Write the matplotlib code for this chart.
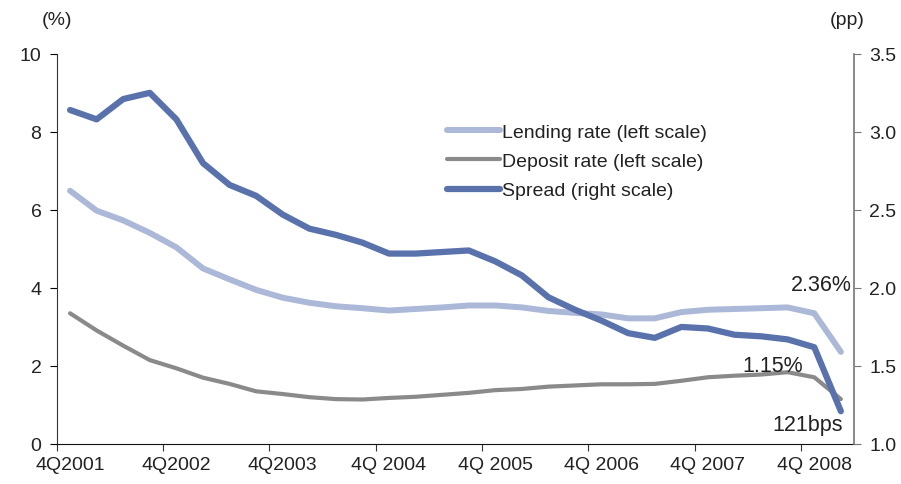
import matplotlib.pyplot as plt
import numpy as np

plt.rcParams['font.family'] = ['Liberation Sans', 'DejaVu Sans']

# Quarterly data, 4Q2001 .. 1Q2009
quarters = ['4Q2001', '4Q2002', '4Q2003', '4Q 2004', '4Q 2005', '4Q 2006', '4Q 2007', '4Q 2008']
lending = [6.49, 5.98, 5.73, 5.41, 5.04, 4.50, 4.22, 3.95, 3.75, 3.62,
           3.53, 3.48, 3.42, 3.46, 3.50, 3.55, 3.55, 3.50, 3.41, 3.36,
           3.32, 3.22, 3.22, 3.38, 3.44, 3.46, 3.48, 3.50, 3.35, 2.36]
deposit = [3.35, 2.91, 2.52, 2.15, 1.94, 1.70, 1.54, 1.35, 1.28, 1.20,
           1.15, 1.14, 1.18, 1.21, 1.26, 1.31, 1.38, 1.41, 1.47, 1.50,
           1.53, 1.53, 1.54, 1.62, 1.71, 1.75, 1.78, 1.84, 1.71, 1.15]
spread = [3.14, 3.08, 3.21, 3.25, 3.08, 2.80, 2.66, 2.59, 2.47, 2.38,
          2.34, 2.29, 2.22, 2.22, 2.23, 2.24, 2.17, 2.08, 1.94, 1.86,
          1.79, 1.71, 1.68, 1.75, 1.74, 1.70, 1.69, 1.67, 1.62, 1.21]

x = np.arange(len(lending))

fig, ax = plt.subplots(figsize=(9.01, 4.85), dpi=100)
fig.subplots_adjust(left=0.063, right=0.948, bottom=0.0825, top=0.887)
ax2 = ax.twinx()

c_lend = '#abb8d7'
c_dep = '#8a8a8a'
c_spr = '#5a72ab'
txt = '#222222'
fs = 14
fs_note = 15.5

l1, = ax.plot(x, lending, color=c_lend, lw=4.3, solid_capstyle='round', label='Lending rate (left scale)')
l2, = ax.plot(x, deposit, color=c_dep, lw=3.0, solid_capstyle='round', label='Deposit rate (left scale)')
l3, = ax2.plot(x, spread, color=c_spr, lw=4.5, solid_capstyle='round', label='Spread (right scale)')

ax.set_xlim(-0.5, len(x) - 0.5)
ax.set_ylim(0, 10)
ax.set_yticks(np.arange(0, 11, 2))
ax2.set_ylim(1.0, 3.5)
ax2.set_yticks(np.arange(1.0, 3.51, 0.5))
ax2.set_yticklabels([f'{v:.1f}' for v in np.arange(1.0, 3.51, 0.5)])

# tick marks on quarter boundaries, labels centred on the 4Q points
ax.set_xticks(np.arange(-0.5, len(x), 4))
ax.set_xticklabels([])
ax.set_xticks(np.arange(0, len(x), 4), minor=True)
ax.set_xticklabels(quarters, minor=True)
ax.tick_params(axis='x', which='major', length=5, direction='out', color='#333333')
ax.tick_params(axis='x', which='minor', length=0, pad=9, labelsize=fs, labelcolor=txt)
ax.tick_params(axis='y', length=5, direction='out', labelsize=fs, labelcolor=txt, pad=6)
ax2.tick_params(axis='y', length=5, direction='out', labelsize=fs, labelcolor=txt,
                color='#777777', pad=6)

for a in (ax, ax2):
    a.spines['top'].set_visible(False)
ax.spines['right'].set_visible(False)
ax2.spines['left'].set_visible(False)
ax2.spines['bottom'].set_visible(False)
ax2.spines['right'].set_color('#777777')
ax2.spines['right'].set_linewidth(1.2)
ax.spines['left'].set_color('#333333')
ax.spines['bottom'].set_color('#111111')

fig.text(0.063, 0.957, '(%)', fontsize=fs, ha='center', va='center', color=txt)
fig.text(0.94, 0.957, '(pp)', fontsize=fs, ha='center', va='center', color=txt)

# end-point labels
ax.text(29.42, 4.1, f'{lending[-1]:.2f}%', fontsize=fs_note, ha='right', va='center', color=txt)
ax.text(26.43, 2.0, f'{deposit[-1]:.2f}%', fontsize=fs_note, ha='center', va='center', color=txt)
ax.text(29.08, 0.51, f'{spread[-1] * 100:.0f}bps', fontsize=fs_note, ha='right', va='center', color=txt)

leg = ax.legend(handles=[l1, l2, l3], loc='upper left', bbox_to_anchor=(0.489, 0.822),
                frameon=False, fontsize=fs, handlelength=2.75, handletextpad=0.1,
                borderpad=0, borderaxespad=0, labelspacing=0.6)
for t in leg.get_texts():
    t.set_color(txt)

plt.savefig('out.png', dpi=100)
